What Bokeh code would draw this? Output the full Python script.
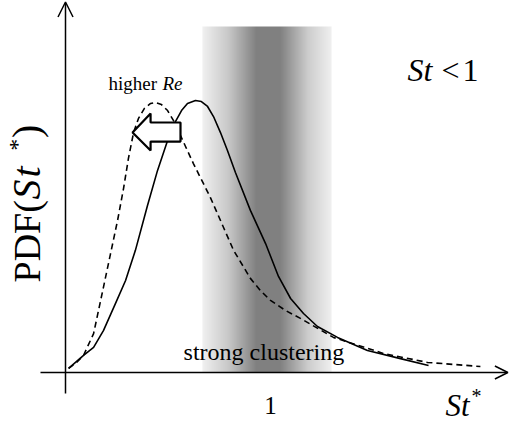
import numpy as np
from bokeh.plotting import figure
from bokeh.models import Range1d, Arrow, OpenHead
from bokeh.core.properties import value
from bokeh.embed import file_html
from bokeh.resources import INLINE

# --- data -------------------------------------------------------------
# PDF of the particle Stokes number St*, reference case (solid)
st_ref = [0.015, 0.088, 0.137, 0.185, 0.244, 0.293, 0.341, 0.400, 0.449, 0.498,
          0.537, 0.566, 0.595, 0.634, 0.663, 0.693, 0.722, 0.756, 0.790, 0.829,
          0.902, 0.976, 1.039, 1.098, 1.161, 1.229, 1.327, 1.473, 1.634, 1.771]
pdf_ref = [0.015, 0.063, 0.092, 0.154, 0.254, 0.338, 0.449, 0.614, 0.743, 0.853,
           0.923, 0.963, 0.989, 1.000, 0.996, 0.978, 0.941, 0.882, 0.816, 0.735,
           0.596, 0.474, 0.353, 0.272, 0.217, 0.169, 0.129, 0.081, 0.051, 0.026]

# PDF at higher Reynolds number (dashed), shifted toward small St*
st_hre = [0.015, 0.054, 0.088, 0.137, 0.185, 0.220, 0.254, 0.283, 0.307, 0.332,
          0.356, 0.385, 0.415, 0.439, 0.468, 0.498, 0.527, 0.561, 0.624, 0.707,
          0.771, 0.820, 0.902, 0.951, 1.000, 1.073, 1.146, 1.307, 1.551, 1.766, 2.024]
pdf_hre = [0.015, 0.037, 0.063, 0.143, 0.313, 0.438, 0.559, 0.676, 0.787, 0.882,
           0.934, 0.971, 0.989, 0.993, 0.985, 0.963, 0.926, 0.871, 0.768, 0.643,
           0.533, 0.449, 0.346, 0.301, 0.265, 0.228, 0.199, 0.129, 0.070, 0.037, 0.022]

# shaded "strong clustering" window around St* = 1
band_start, band_end, band_top = 0.668, 1.298, 1.272

tick_values = [1.0]
tick_labels = ["1"]

# block arrow pointing from the solid peak to the dashed peak
shift_arrow_x = [0.327, 0.415, 0.415, 0.561, 0.561, 0.415, 0.415]
shift_arrow_y = [0.882, 0.952, 0.919, 0.919, 0.849, 0.849, 0.816]

# --- figure -----------------------------------------------------------
p = figure(width=509, height=425,
           x_range=Range1d(-0.3171, 2.1659), y_range=Range1d(-0.1949, 1.3676),
           x_axis_location=None, y_axis_location=None,
           output_backend="svg", toolbar_location=None,
           min_border=0, min_border_left=0, min_border_right=0,
           min_border_top=0, min_border_bottom=0)
p.grid.visible = False
p.outline_line_color = None
p.background_fill_color = "white"
p.border_fill_color = "white"

SERIF = value("Liberation Serif")

# grey gradient band, darkest near St* = 1
n = 129
t = np.linspace(0.0, 1.0, n)
g = np.interp(t, [0.0, 0.2, 0.42, 0.6, 0.82, 1.0],
              [240, 200, 128, 128, 205, 240]).astype(np.uint8)
img = np.empty((1, n), dtype=np.uint32)
view = img.view(dtype=np.uint8).reshape((1, n, 4))
view[0, :, 0] = g
view[0, :, 1] = g
view[0, :, 2] = g
view[0, :, 3] = 255
p.image_rgba(image=[img], x=band_start, y=0, dw=band_end - band_start, dh=band_top)

# curves
p.line(st_ref, pdf_ref, line_color="black", line_width=1.6)
p.line(st_hre, pdf_hre, line_color="black", line_width=1.6, line_dash="6 4")

# shift arrow
p.patch(shift_arrow_x, shift_arrow_y, fill_color="white", line_color="black",
        line_width=2.2)

# hand-drawn style axes with open arrow heads
p.add_layout(Arrow(end=OpenHead(size=13, line_width=1.5), line_width=1.5,
                   x_start=-0.122, y_start=0, x_end=2.158, y_end=0))
p.add_layout(Arrow(end=OpenHead(size=15, line_width=1.5), line_width=1.5,
                   x_start=0, y_start=-0.077, x_end=0, y_end=1.362))


def label(x, y, txt, size, italic=False, angle=0.0):
    p.text(x=[x], y=[y], text=[txt], text_font=SERIF,
           text_font_style="italic" if italic else "normal",
           text_font_size=f"{size}px", text_baseline="alphabetic",
           text_align="left", angle=angle, text_color="black")


# tick label
p.text(x=tick_values, y=[-0.123], text=tick_labels, text_font=SERIF,
       text_font_size="25px", text_align="center", text_baseline="alphabetic",
       text_color="black")

# x label  St*
label(1.854, -0.120, "St", 31, italic=True)
label(1.980, -0.085, "*", 20)

# y label  PDF(St*)  (rotated)
up = np.pi / 2
label(-0.186, 0.331, "PDF(", 38, angle=up)
label(-0.189, 0.636, "S", 40, italic=True, angle=up)
label(-0.189, 0.717, "t", 40, italic=True, angle=up)
label(-0.235, 0.815, "*", 24, angle=up)
label(-0.189, 0.862, ")", 40, angle=up)

# regime label  St <1
label(1.668, 1.112, "St", 32, italic=True)
label(1.834, 1.112, "<", 32)
label(1.937, 1.112, "1", 32)

# annotation texts
label(0.210, 1.061, "higher ", 19)
label(0.473, 1.061, "Re", 19, italic=True)
label(0.576, 0.077, "strong clustering", 24)

open("out.html", "w").write(file_html(p, INLINE))
